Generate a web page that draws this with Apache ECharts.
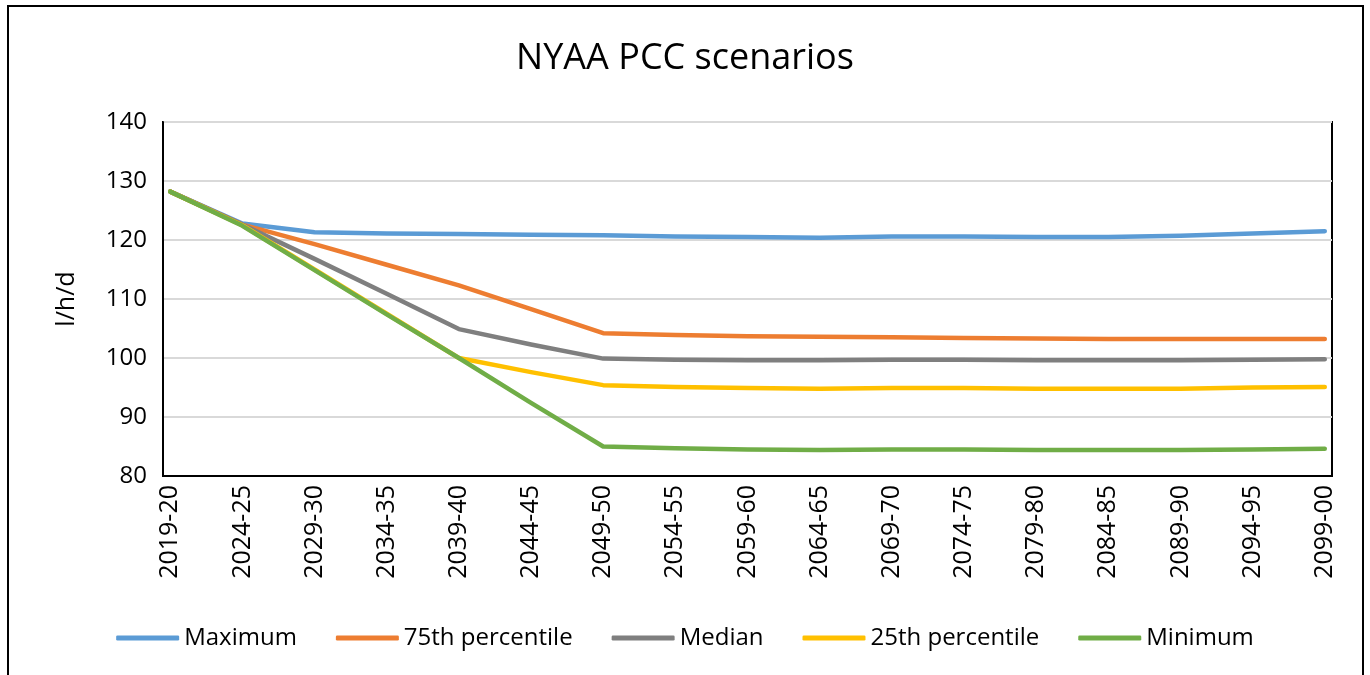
<!DOCTYPE html>
<html>
<head>
<meta charset="utf-8">
<title>NYAA PCC scenarios</title>
<script src="https://cdn.jsdelivr.net/npm/echarts@6/dist/echarts.min.js"></script>
<style>
  html, body { margin: 0; padding: 0; background: #fff; }
  #chart { width: 1370px; height: 675px; }
</style>
</head>
<body>
<div id="chart"></div>
<script>
// labelled years (one every 5 years), values read at those years
const tickLabels = ['2019-20', '2024-25', '2029-30', '2034-35', '2039-40', '2044-45', '2049-50', '2054-55', '2059-60',
  '2064-65', '2069-70', '2074-75', '2079-80', '2084-85', '2089-90', '2094-95', '2099-00']

const maximum = [128.2, 122.8, 121.3, 121.1, 121.0, 120.9, 120.8, 120.6, 120.5, 120.4, 120.6, 120.6, 120.5, 120.5, 120.7, 121.1, 121.5]
const pct75   = [128.2, 122.6, 119.3, 115.8, 112.3, 108.3, 104.2, 103.9, 103.7, 103.6, 103.5, 103.4, 103.3, 103.2, 103.2, 103.2, 103.2]
const median  = [128.2, 122.6, 116.8, 110.9, 104.9, 102.3, 99.9, 99.7, 99.6, 99.6, 99.7, 99.7, 99.6, 99.6, 99.6, 99.7, 99.8]
const pct25   = [128.2, 122.5, 115.0, 107.5, 100.0, 97.6, 95.4, 95.1, 94.9, 94.8, 94.9, 94.9, 94.8, 94.8, 94.8, 95.0, 95.1]
const minimum = [128.2, 122.4, 114.9, 107.4, 100.0, 92.4, 85.0, 84.7, 84.5, 84.4, 84.5, 84.5, 84.4, 84.4, 84.4, 84.5, 84.6]

// the axis has one slot per financial year, only every 5th one is labelled
const categories = []
for (let y = 2019; y <= 2099; y++) {
  categories.push(y + '-' + String((y + 1) % 100).padStart(2, '0'))
}

const toAxis = vals => {
  const out = categories.map(() => null)
  tickLabels.forEach((lab, i) => { out[categories.indexOf(lab)] = vals[i] })
  return out
}

const font = 'Open Sans'
const line = (name, color, vals) => ({
  name: name,
  type: 'line',
  data: toAxis(vals),
  connectNulls: true,
  symbol: 'none',
  lineStyle: { width: 4.5, color: color, cap: 'round', join: 'round' },
  itemStyle: { color: color }
})

const chart = echarts.init(document.getElementById('chart'), null, { renderer: 'canvas' })

const option = {
  animation: false,
  backgroundColor: '#fff',
  title: {
    text: 'NYAA PCC scenarios',
    left: 'center',
    top: 36,
    textStyle: { fontFamily: font, fontSize: 36, fontWeight: 'normal', color: '#000' }
  },
  graphic: [{
    type: 'rect',
    shape: { x: 8, y: 6, width: 1355, height: 720 },
    style: { fill: null, stroke: '#000', lineWidth: 2 },
    silent: true
  }],
  legend: {
    left: 'center',
    top: 621,
    icon: 'roundRect',
    itemWidth: 63,
    itemHeight: 5,
    itemGap: 39,
    textStyle: { fontFamily: font, fontSize: 24, color: '#000' },
    data: ['Maximum', '75th percentile', 'Median', '25th percentile', 'Minimum']
  },
  grid: {
    left: 163,
    right: 38,
    top: 122,
    bottom: 199,
    show: true,
    borderColor: '#000',
    borderWidth: 2
  },
  xAxis: {
    type: 'category',
    data: categories,
    boundaryGap: true,
    axisLine: { show: true, lineStyle: { color: '#000', width: 2 } },
    axisTick: { show: false },
    axisLabel: {
      rotate: 90,
      margin: 9,
      interval: (idx) => tickLabels.indexOf(categories[idx]) >= 0,
      fontFamily: font,
      fontSize: 25,
      color: '#000'
    }
  },
  yAxis: {
    type: 'value',
    min: 80,
    max: 140,
    interval: 10,
    name: 'l/h/d',
    nameLocation: 'middle',
    nameGap: 84,
    nameTextStyle: { fontFamily: font, fontSize: 25, color: '#000' },
    axisLine: { show: true, lineStyle: { color: '#000', width: 2 } },
    axisTick: { show: false },
    axisLabel: { margin: 16, fontFamily: font, fontSize: 24, color: '#000' },
    splitLine: { lineStyle: { color: '#d9d9d9', width: 2 } }
  },
  series: [
    line('Maximum', '#5b9bd5', maximum),
    line('75th percentile', '#ed7d31', pct75),
    line('Median', '#7f7f7f', median),
    line('25th percentile', '#ffc000', pct25),
    line('Minimum', '#70ad47', minimum)
  ]
}

chart.setOption(option)
</script>
</body>
</html>
